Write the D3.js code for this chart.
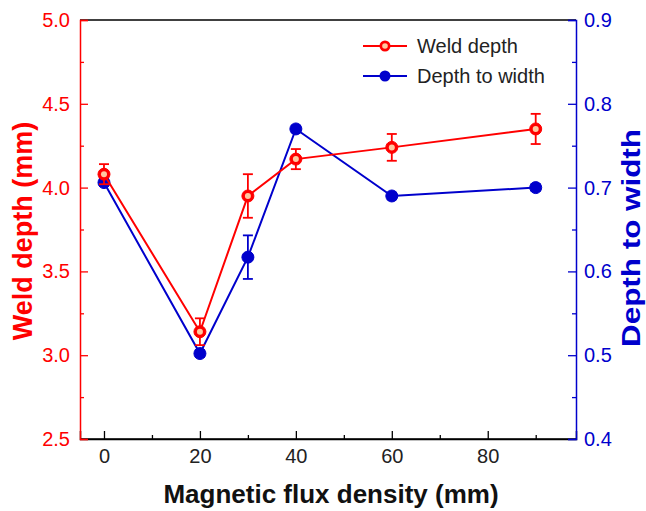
<!DOCTYPE html>
<html lang="en">
  <head>
    <meta charset="UTF-8" />
    <title>Weld depth</title>
    <script src="https://d3js.org/d3.v7.min.js"></script>
    <style>
      body {
        margin: 0;
        background: #fff;
      }
      svg {
        font-family: Arial, "Liberation Sans", sans-serif;
      }
    </style>
  </head>
  <body>
    <svg id="chart" width="646" height="511"></svg>
    <script>
      const flux = [0, 20, 30, 40, 60, 90];
      const weldDepth = [4.08, 3.14, 3.95, 4.17, 4.24, 4.35];
      const weldErr = [0.06, 0.08, 0.13, 0.06, 0.08, 0.09];
      const ratio = [0.706, 0.502, 0.617, 0.77, 0.69, 0.70];
      const ratioErr = [0.004, 0.004, 0.026, 0.004, 0.004, 0.004];

      const xTicks = [0, 20, 40, 60, 80];
      const leftTicks = [2.5, 3.0, 3.5, 4.0, 4.5, 5.0];
      const rightTicks = [0.4, 0.5, 0.6, 0.7, 0.8, 0.9];

      const red = "#ff0000";
      const blue = "#0000cc";

      const margin = { left: 80, right: 70, top: 20, bottom: 72 };
      const width = 646, height = 511;

      const svg = d3.select("#chart");

      const x = d3.scaleLinear().domain([-5, 98.4]).range([margin.left, width - margin.right]);
      const yL = d3.scaleLinear().domain([2.5, 5.0]).range([height - margin.bottom, margin.top]);
      const yR = d3.scaleLinear().domain([0.4, 0.9]).range([height - margin.bottom, margin.top]);

      const x0 = margin.left, x1 = width - margin.right;
      const y0 = height - margin.bottom, y1 = margin.top;

      // frame
      svg.append("line").attr("x1", x0).attr("x2", x1).attr("y1", y1).attr("y2", y1)
        .attr("stroke", "#000").attr("stroke-width", 1.5);
      svg.append("line").attr("x1", x0).attr("x2", x1).attr("y1", y0).attr("y2", y0)
        .attr("stroke", "#000").attr("stroke-width", 1.5);

      const isMajor = (list, d) => list.some((t) => Math.abs(t - d) < 1e-6);

      // axes (ticks inward)
      const xAxis = d3.axisBottom(x).tickValues(d3.range(0, 91, 10)).tickSize(-8)
        .tickFormat((d) => (xTicks.includes(d) ? d : ""));
      const gx = svg.append("g").attr("transform", `translate(0,${y0})`).call(xAxis);
      gx.select(".domain").attr("stroke", "#000").attr("stroke-width", 1.5);
      gx.selectAll(".tick line").attr("stroke", "#000").attr("stroke-width", 1.3)
        .attr("y2", (d) => (xTicks.includes(d) ? -8 : -4));
      gx.selectAll(".tick text").attr("y", 10).attr("font-size", 20).attr("fill", "#222");

      const gl = svg.append("g").attr("transform", `translate(${x0},0)`)
        .call(d3.axisLeft(yL).tickValues(d3.range(2.5, 5.01, 0.25)).tickSize(-8)
          .tickFormat((d) => (isMajor(leftTicks, d) ? d3.format(".1f")(d) : "")));
      gl.select(".domain").attr("stroke", red).attr("stroke-width", 1.5);
      gl.selectAll(".tick line").attr("stroke", red).attr("stroke-width", 1.3)
        .attr("x2", (d) => (isMajor(leftTicks, d) ? 8 : 4));
      gl.selectAll(".tick text").attr("x", -10).attr("font-size", 20).attr("fill", red);

      const gr = svg.append("g").attr("transform", `translate(${x1},0)`)
        .call(d3.axisRight(yR).tickValues(d3.range(0.4, 0.901, 0.05)).tickSize(-8)
          .tickFormat((d) => (isMajor(rightTicks, d) ? d3.format(".1f")(d) : "")));
      gr.select(".domain").attr("stroke", blue).attr("stroke-width", 1.5);
      gr.selectAll(".tick line").attr("stroke", blue).attr("stroke-width", 1.3)
        .attr("x2", (d) => (isMajor(rightTicks, d) ? -8 : -4));
      gr.selectAll(".tick text").attr("x", 8).attr("font-size", 20).attr("fill", blue);

      // axis titles
      svg.append("text").attr("x", 331).attr("y", 503).attr("text-anchor", "middle")
        .attr("font-size", 26).attr("font-weight", "bold").attr("fill", "#111")
        .text("Magnetic flux density (mm)");
      svg.append("text").attr("transform", `translate(32,231) rotate(-90)`)
        .attr("text-anchor", "middle").attr("font-size", 27).attr("font-weight", "bold").attr("fill", red)
        .text("Weld depth (mm)");
      svg.append("text").attr("transform", `translate(640,238) rotate(-90)`)
        .attr("text-anchor", "middle").attr("font-size", 26).attr("font-weight", "bold").attr("fill", blue)
        .attr("textLength", 218).attr("lengthAdjust", "spacingAndGlyphs")
        .text("Depth to width");

      const redData = flux.map((f, i) => ({ x: f, y: weldDepth[i], e: weldErr[i] }));
      const blueData = flux.map((f, i) => ({ x: f, y: ratio[i], e: ratioErr[i] }));

      function drawSeries(data, yScale, color, hollow) {
        const g = svg.append("g");
        g.append("path").datum(data)
          .attr("d", d3.line().x((d) => x(d.x)).y((d) => yScale(d.y)))
          .attr("fill", "none").attr("stroke", color).attr("stroke-width", 2);
        const eb = g.selectAll(".eb").data(data).enter().append("g");
        eb.append("line").attr("x1", (d) => x(d.x)).attr("x2", (d) => x(d.x))
          .attr("y1", (d) => yScale(d.y - d.e)).attr("y2", (d) => yScale(d.y + d.e))
          .attr("stroke", color).attr("stroke-width", 1.8);
        [-1, 1].forEach((s) => {
          eb.append("line").attr("x1", (d) => x(d.x) - 5).attr("x2", (d) => x(d.x) + 5)
            .attr("y1", (d) => yScale(d.y + s * d.e))
            .attr("y2", (d) => yScale(d.y + s * d.e))
            .attr("stroke", color).attr("stroke-width", 1.8);
        });
        g.selectAll(".pt").data(data).enter().append("circle")
          .attr("cx", (d) => x(d.x)).attr("cy", (d) => yScale(d.y)).attr("r", 6)
          .attr("fill", color).attr("stroke", color).attr("stroke-width", 1);
        if (hollow) {
          g.selectAll(".ptc").data(data).enter().append("circle")
            .attr("cx", (d) => x(d.x)).attr("cy", (d) => yScale(d.y)).attr("r", 3)
            .attr("fill", "#ffc8a0");
        }
      }

      drawSeries(blueData, yR, blue, false);
      drawSeries(redData, yL, red, true);

      // legend
      const legend = [
        { label: "Weld depth", color: red, hollow: true },
        { label: "Depth to width", color: blue, hollow: false },
      ];
      const lg = svg.selectAll(".lg").data(legend).enter().append("g")
        .attr("transform", (d, i) => `translate(363,${46 + i * 30})`);
      lg.append("line").attr("x1", 0).attr("x2", 44).attr("stroke", (d) => d.color).attr("stroke-width", 2);
      lg.append("circle").attr("cx", 22).attr("r", 5.5).attr("fill", (d) => d.color);
      lg.filter((d) => d.hollow).append("circle").attr("cx", 22).attr("r", 2.8).attr("fill", "#ffc8a0");
      lg.append("text").attr("x", 54).attr("y", 7).attr("font-size", 20).attr("fill", "#222")
        .text((d) => d.label);
    </script>
  </body>
</html>
